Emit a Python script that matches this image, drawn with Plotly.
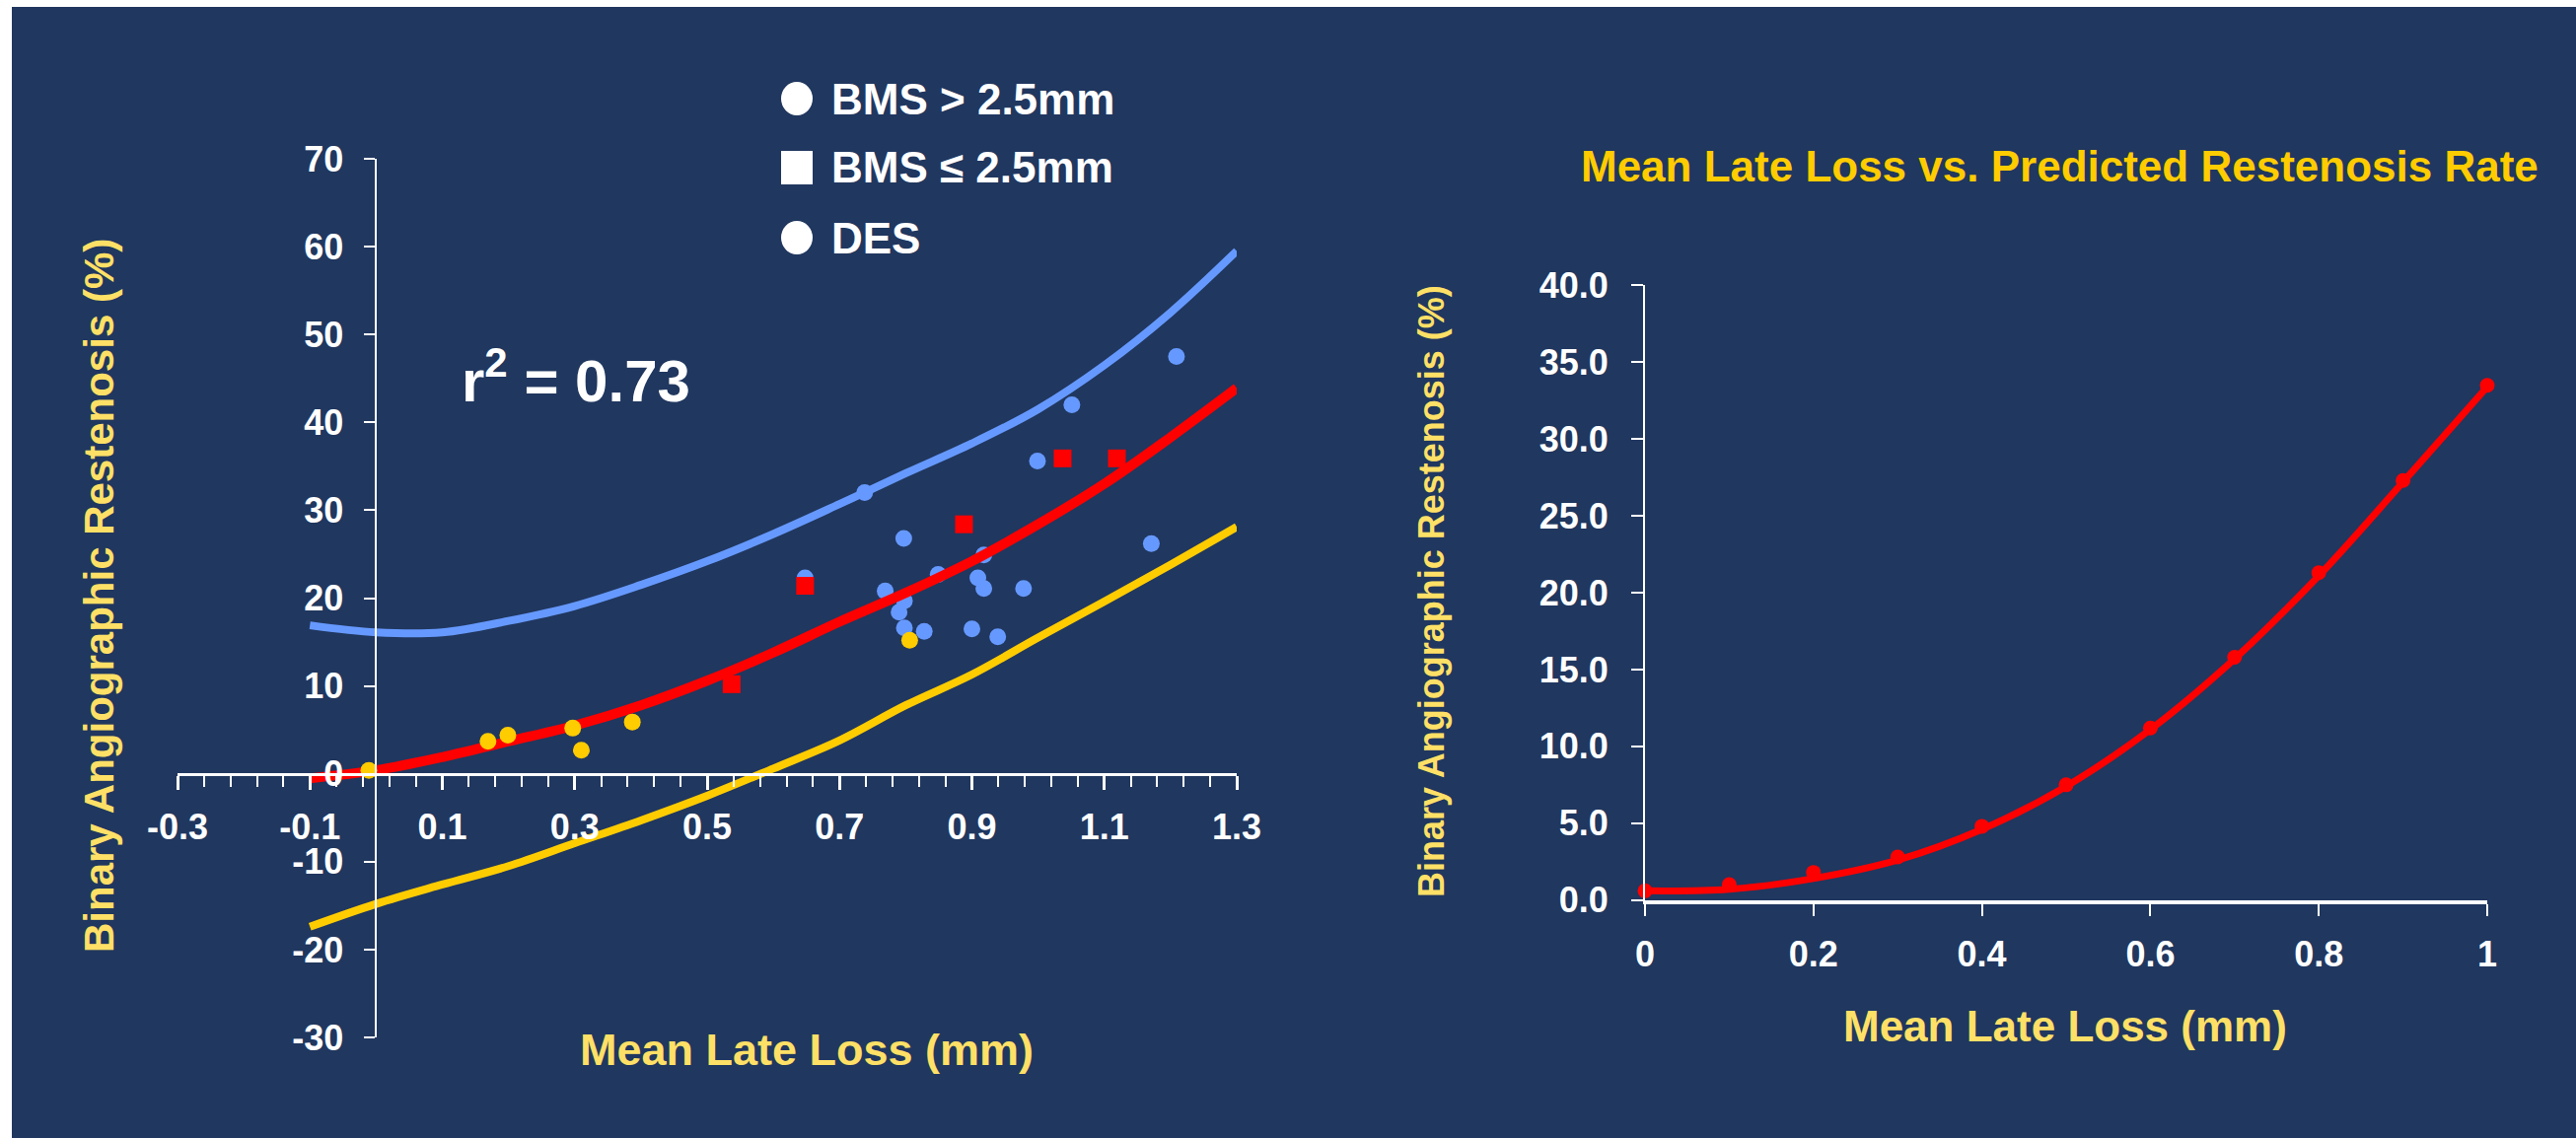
import plotly.graph_objects as go

W, H = 2612, 1154
NAVY = "#20375F"
BLUE = "#6699FF"
RED = "#FF0000"
GOLD = "#FFCC00"
TITLE_YEL = "#FFE066"
FONT = "Liberation Sans, Arial, sans-serif"

# ---------------- data (left chart) ----------------
bms_large_x = [0.648, 0.738, 0.769, 0.790, 0.797, 0.798, 0.798, 0.828, 0.849, 0.900,
               0.909, 0.918, 0.918, 0.939, 0.978, 0.999, 1.051, 1.171, 1.209]
bms_large_y = [22.3, 32.0, 20.8, 18.4, 26.8, 19.7, 16.6, 16.2, 22.7, 16.5,
               22.3, 24.9, 21.1, 15.6, 21.1, 35.6, 42.0, 26.2, 47.5]

bms_small_x = [0.537, 0.648, 0.888, 1.037, 1.119]
bms_small_y = [10.2, 21.4, 28.4, 35.9, 35.9]

des_x = [-0.011, 0.169, 0.199, 0.297, 0.310, 0.387, 0.806]
des_y = [0.4, 3.7, 4.4, 5.2, 2.7, 5.9, 15.2]

fit_x = [-0.1, 0.0, 0.1, 0.2, 0.3, 0.4, 0.5, 0.6, 0.7, 0.8, 0.9, 1.0, 1.1, 1.2, 1.3]
fit_mid = [-0.5, 0.4, 1.9, 3.7, 5.5, 7.8, 10.6, 13.8, 17.3, 20.6, 24.2, 28.4, 33.0, 38.3, 43.9]
fit_upper = [16.9, 16.1, 16.1, 17.4, 19.1, 21.5, 24.2, 27.3, 30.7, 34.2, 37.6, 41.5, 46.5, 52.5, 59.5]
fit_lower = [-17.4, -14.8, -12.6, -10.5, -7.9, -5.3, -2.5, 0.6, 3.8, 7.8, 11.3, 15.5, 19.6, 23.8, 28.1]

# ---------------- data (right chart) ----------------
pred_x = [0.0, 0.1, 0.2, 0.3, 0.4, 0.5, 0.6, 0.7, 0.8, 0.9, 1.0]
pred_y = [0.6, 1.0, 1.8, 2.8, 4.8, 7.5, 11.2, 15.8, 21.3, 27.3, 33.5]
pred_line_y = [0.6, 0.7, 1.4, 2.6, 4.6, 7.4, 11.1, 15.7, 21.1, 27.2, 33.4]

left_xticks = [-0.3, -0.1, 0.1, 0.3, 0.5, 0.7, 0.9, 1.1, 1.3]
left_yticks = [-30, -20, -10, 0, 10, 20, 30, 40, 50, 60, 70]
right_xticks = [0, 0.2, 0.4, 0.6, 0.8, 1.0]
right_yticks = [0, 5, 10, 15, 20, 25, 30, 35, 40]


def px(x):
    return x / W


def py(y):
    return 1 - y / H


# layout geometry (pixels)
L_X0, L_X1 = 180, 1254      # x range -0.3 .. 1.3
L_YT, L_YB = 161, 1052      # y range 70 .. -30
R_X0, R_X1 = 1668, 2522     # x range 0 .. 1
R_YT, R_YB = 289.4, 912.7   # y range 40 .. 0

lx_dom = [px(L_X0), px(L_X1)]
ly_dom = [py(L_YB), py(L_YT)]
lx_rng = [-0.3, 1.3]
ly_rng = [-30, 70]
xaxis_pos = ly_dom[0] + (0 - ly_rng[0]) / (ly_rng[1] - ly_rng[0]) * (ly_dom[1] - ly_dom[0])
yaxis_pos = lx_dom[0] + (0 - lx_rng[0]) / (lx_rng[1] - lx_rng[0]) * (lx_dom[1] - lx_dom[0])

fig = go.Figure()

# left chart traces
fig.add_trace(go.Scatter(x=bms_large_x, y=bms_large_y, mode="markers",
                         marker=dict(color=BLUE, size=17, symbol="circle"),
                         cliponaxis=False, showlegend=False))
fig.add_trace(go.Scatter(x=fit_x, y=fit_upper, mode="lines", line=dict(color=BLUE, width=8, shape="spline"),
                         cliponaxis=False, showlegend=False))
fig.add_trace(go.Scatter(x=fit_x, y=fit_lower, mode="lines", line=dict(color=GOLD, width=8, shape="spline"),
                         cliponaxis=False, showlegend=False))
fig.add_trace(go.Scatter(x=fit_x, y=fit_mid, mode="lines", line=dict(color=RED, width=10, shape="spline"),
                         cliponaxis=False, showlegend=False))
fig.add_trace(go.Scatter(x=bms_small_x, y=bms_small_y, mode="markers",
                         marker=dict(color=RED, size=18, symbol="square"),
                         cliponaxis=False, showlegend=False))
fig.add_trace(go.Scatter(x=des_x, y=des_y, mode="markers",
                         marker=dict(color=GOLD, size=17, symbol="circle"),
                         cliponaxis=False, showlegend=False))

# right chart traces
fig.add_trace(go.Scatter(x=pred_x, y=pred_line_y, mode="lines", xaxis="x2", yaxis="y2",
                         line=dict(color=RED, width=7, shape="spline"),
                         cliponaxis=False, showlegend=False))
fig.add_trace(go.Scatter(x=pred_x, y=pred_y, mode="markers", xaxis="x2", yaxis="y2",
                         marker=dict(color=RED, size=15, symbol="circle"),
                         cliponaxis=False, showlegend=False))

tickfont = dict(family=FONT, size=36, color="white", weight="bold")
tickfont_r = dict(family=FONT, size=36, color="white", weight="bold")

fig.update_layout(
    width=W, height=H,
    autosize=False,
    margin=dict(l=0, r=0, t=0, b=0, pad=0, autoexpand=False),
    paper_bgcolor="white",
    plot_bgcolor="rgba(0,0,0,0)",
    showlegend=False,
    xaxis=dict(domain=lx_dom, range=lx_rng, anchor="free", position=xaxis_pos,
               tickmode="array", tickvals=left_xticks, ticktext=[f"{v:.1f}" for v in left_xticks],
               ticks="outside", ticklen=14, tickwidth=3, tickcolor="white",
               minor=dict(tickmode="linear", tick0=-0.3, dtick=0.04, ticks="outside",
                          ticklen=11, tickwidth=2, tickcolor="white", showgrid=False),
               showline=True, linecolor="white", linewidth=3, automargin=False,
               showgrid=False, zeroline=False, tickfont=tickfont, ticklabelstandoff=7),
    yaxis=dict(domain=ly_dom, range=ly_rng, anchor="free", position=yaxis_pos,
               tickmode="array", tickvals=left_yticks, ticktext=[str(v) for v in left_yticks],
               ticks="outside", ticklen=11, tickwidth=2, tickcolor="white",
               showline=True, linecolor="white", linewidth=2, automargin=False,
               showgrid=False, zeroline=False, tickfont=tickfont, ticklabelstandoff=14),
    xaxis2=dict(domain=[px(R_X0), px(R_X1)], range=[0, 1], anchor="y2",
                tickmode="array", tickvals=right_xticks,
                ticktext=["0", "0.2", "0.4", "0.6", "0.8", "1"],
                ticks="outside", ticklen=12, tickwidth=2, tickcolor="white",
                showline=True, linecolor="white", linewidth=4, automargin=False,
                showgrid=False, zeroline=False, tickfont=tickfont_r, ticklabelstandoff=8),
    yaxis2=dict(domain=[py(R_YB), py(R_YT)], range=[0, 40], anchor="x2",
                tickmode="array", tickvals=right_yticks, ticktext=[f"{v:.1f}" for v in right_yticks],
                ticks="outside", ticklen=12, tickwidth=2, tickcolor="white",
                showline=True, linecolor="white", linewidth=2, automargin=False,
                showgrid=False, zeroline=False, tickfont=tickfont_r, ticklabelstandoff=16),
)

# background panel (white strips at top/left edges)
fig.add_shape(type="rect", xref="paper", yref="paper", x0=px(12), x1=1, y0=0, y1=py(7),
              fillcolor=NAVY, line=dict(width=0), layer="below")

ann = []
# axis titles
ann.append(dict(text="Binary Angiographic Restenosis (%)", x=px(100), y=py(604), textangle=-90,
                font=dict(family=FONT, size=42, color=TITLE_YEL, weight="bold")))
ann.append(dict(text="Mean Late Loss (mm)", x=px(818), y=py(1064),
                font=dict(family=FONT, size=45, color=TITLE_YEL, weight="bold")))
ann.append(dict(text="Binary Angiographic Restenosis (%)", x=px(1451), y=py(600), textangle=-90,
                font=dict(family=FONT, size=36, color=TITLE_YEL, weight="bold")))
ann.append(dict(text="Mean Late Loss (mm)", x=px(2094), y=py(1040),
                font=dict(family=FONT, size=44, color=TITLE_YEL, weight="bold")))
# chart title (right)
ann.append(dict(text="Mean Late Loss vs. Predicted Restenosis Rate", x=px(2088), y=py(168),
                font=dict(family=FONT, size=44, color=GOLD, weight="bold")))
# r squared
ann.append(dict(text="r<sup>2</sup> = 0.73", x=px(466), y=py(382), xanchor="left",
                font=dict(family=FONT, size=60, color="white", weight="bold")))

# legend
legend_items = [("BMS > 2.5mm", "circle", 100), ("BMS ≤ 2.5mm", "rect", 170), ("DES", "circle", 241)]
for label, shp, yc in legend_items:
    fig.add_shape(type=shp, xref="paper", yref="paper", xsizemode="pixel", ysizemode="pixel",
                  xanchor=px(808), yanchor=py(yc), x0=-16, x1=16, y0=-17, y1=17,
                  fillcolor="white", line=dict(width=0))
    ann.append(dict(text=label, x=px(841), y=py(yc), xanchor="left",
                    font=dict(family=FONT, size=44, color="white", weight="bold")))

for a in ann:
    a.setdefault("xanchor", "center")
    a.setdefault("yanchor", "middle")
    a.update(xref="paper", yref="paper", showarrow=False)
    fig.add_annotation(**a)

fig.write_html("out.html", config={"displayModeBar": False, "responsive": False},
               post_script="document.body.style.margin='0';document.body.style.overflow='hidden';")
